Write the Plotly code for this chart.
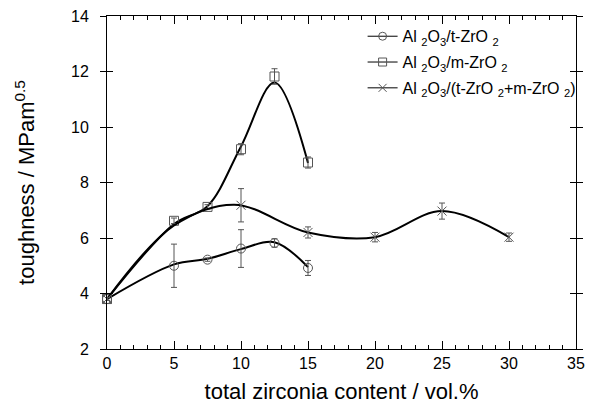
import plotly.graph_objects as go

# ---- measured data (mean, error) ----
t_x = [0, 5, 7.5, 10, 12.5, 15]
t_y = [3.8, 5.0, 5.22, 5.62, 5.82, 4.92]
t_err = [0.05, 0.78, 0.06, 0.68, 0.15, 0.27]

m_x = [0, 5, 7.5, 10, 12.5, 15]
m_y = [3.8, 6.62, 7.12, 9.2, 11.82, 8.72]
m_err = [0.05, 0.1, 0.08, 0.2, 0.28, 0.2]

mix_x = [0, 10, 15, 20, 25, 30]
mix_y = [3.8, 7.18, 6.2, 6.03, 6.97, 6.03]
mix_err = [0.05, 0.6, 0.2, 0.17, 0.29, 0.15]

# ---- fitted (hand-drawn) curve knots ----
t_fit_x = [0, 5, 7.5, 10, 12.5, 15]
t_fit_y = [3.8, 5.05, 5.25, 5.6, 5.85, 4.95]

m_fit_x = [0, 5, 7.5, 10, 12.5, 15]
m_fit_y = [3.8, 6.5, 7.15, 9.3, 11.6, 8.7]

mix_fit_x = [0, 5, 9.5, 15, 20, 25, 30]
mix_fit_y = [3.8, 6.45, 7.2, 6.2, 6.03, 6.97, 6.03]

names = [
    "Al <sub>2</sub>O<sub>3</sub>/t-ZrO <sub>2</sub>",
    "Al <sub>2</sub>O<sub>3</sub>/m-ZrO <sub>2</sub>",
    "Al <sub>2</sub>O<sub>3</sub>/(t-ZrO <sub>2</sub>+m-ZrO <sub>2</sub>)",
]
symbols = ["circle-open", "square-open", "x-thin-open"]

MK = "#555555"
fig = go.Figure()

series = [
    (t_x, t_y, t_err, t_fit_x, t_fit_y),
    (m_x, m_y, m_err, m_fit_x, m_fit_y),
    (mix_x, mix_y, mix_err, mix_fit_x, mix_fit_y),
]

for i, (x, y, e, fx, fy) in enumerate(series):
    fig.add_trace(go.Scatter(
        x=fx, y=fy, mode="lines",
        line=dict(color="black", width=2, shape="spline", smoothing=1.0),
        showlegend=False, hoverinfo="skip", cliponaxis=False))
    fig.add_trace(go.Scatter(
        x=x, y=y, mode="markers",
        marker=dict(symbol=symbols[i], size=9, color=MK, line=dict(width=1, color=MK)),
        error_y=dict(type="data", array=e, visible=True, color=MK, thickness=1, width=3),
        showlegend=False, cliponaxis=False))
    fig.add_trace(go.Scatter(
        x=[None], y=[None], mode="lines+markers", name=names[i],
        legendgroup="g%d" % i,
        line=dict(color="black", width=1),
        marker=dict(symbol=symbols[i], size=8, color=MK, line=dict(width=1, color=MK))))

# invisible trace to carry the overlay y axis (crossing ticks)
fig.add_trace(go.Scatter(x=[None], y=[None], yaxis="y2", showlegend=False))

font = "Liberation Sans, Arial, sans-serif"
fig.update_layout(
    width=593, height=408,
    margin=dict(l=107, r=8, t=14, b=55),
    paper_bgcolor="white", plot_bgcolor="white",
    font=dict(family=font, color="black", size=16),
    showlegend=True,
    legend=dict(x=0.545, y=0.99, xanchor="left", yanchor="top",
                bgcolor="rgba(0,0,0,0)", font=dict(size=16, family=font),
                tracegroupgap=2, itemwidth=30),
    xaxis=dict(range=[0, 35], dtick=5, showgrid=False, zeroline=False,
               showline=True, linecolor="black", linewidth=1,
               ticks="inside", ticklen=8, tickcolor="black", mirror="ticks",
               minor=dict(dtick=1, ticks="inside", ticklen=4, tickcolor="black"),
               tickfont=dict(size=16),
               title=dict(text="total zirconia content / vol.%", font=dict(size=22), standoff=12)),
    yaxis=dict(range=[2, 14], dtick=2, showgrid=False, zeroline=False,
               showline=True, linecolor="black", linewidth=1,
               ticks="outside", ticklen=6, tickcolor="black", mirror="ticks",
               tickfont=dict(size=16), ticklabelstandoff=8,
               title=dict(text="toughness / MPam<sup>0.5</sup>", font=dict(size=22), standoff=30)),
    yaxis2=dict(range=[2, 14], dtick=2, overlaying="y", side="left",
                showgrid=False, zeroline=False, showline=False,
                ticks="inside", ticklen=6, tickcolor="black", mirror="ticks",
                showticklabels=False),
)

fig.write_html("out.html")
